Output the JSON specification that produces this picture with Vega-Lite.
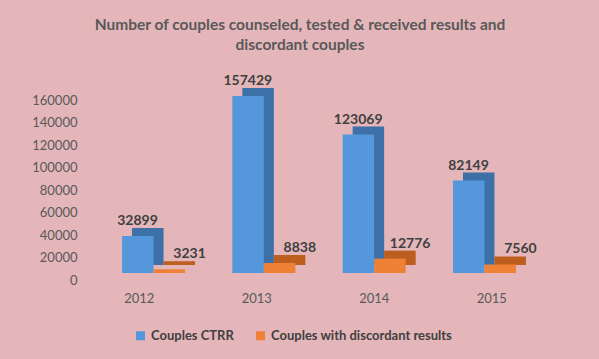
{
  "$schema": "https://vega.github.io/schema/vega-lite/v6.json",
  "width": 470,
  "height": 180,
  "autosize": {"type": "none"},
  "padding": {"left": 80, "top": 100, "right": 49, "bottom": 79},
  "background": "#e4b6ba",
  "config": {"view": {"stroke": null}, "font": "Lato"},
  "title": {
    "text": ["Number of couples counseled, tested & received results and", "discordant couples"],
    "fontSize": 15.5, "font": "Lato", "fontWeight": "bold", "color": "#595959",
    "anchor": "middle", "dx": -15, "offset": 20, "lineHeight": 20
  },
  "data": {"values": [
    {"year": "2012", "series": "Couples CTRR", "value": 32899},
    {"year": "2012", "series": "Couples with discordant results", "value": 3231},
    {"year": "2013", "series": "Couples CTRR", "value": 157429},
    {"year": "2013", "series": "Couples with discordant results", "value": 8838},
    {"year": "2014", "series": "Couples CTRR", "value": 123069},
    {"year": "2014", "series": "Couples with discordant results", "value": 12776},
    {"year": "2015", "series": "Couples CTRR", "value": 82149},
    {"year": "2015", "series": "Couples with discordant results", "value": 7560}
  ]},
  "encoding": {
    "y": {"field": "value", "type": "quantitative",
      "scale": {"domain": [0, 160000]},
      "axis": {"title": null, "values": [0, 20000, 40000, 60000, 80000, 100000, 120000, 140000, 160000], "format": "d", "labelFontSize": 13, "labelColor": "#595959", "domain": false, "ticks": false, "grid": false, "labelPadding": 3, "labelFont": "Lato"}}
  },
  "layer": [
    {
      "mark": {"type": "point", "opacity": 0},
      "encoding": {
        "x": {"field": "year", "type": "nominal",
          "axis": {"title": null, "labelAngle": 0, "labelFontSize": 13, "labelColor": "#595959", "domain": false, "ticks": false, "labelPadding": 12, "labelFont": "Lato"}}
      }
    },
    {
      "encoding": {
        "x": {"field": "year", "type": "nominal", "axis": null,
          "scale": {"range": [18.4, 459.6], "paddingInner": 0.429, "paddingOuter": 0.2145}}
      },
      "layer": [
        {
          "mark": {"type": "bar", "yOffset": -15},
          "encoding": {
            "xOffset": {"field": "series", "type": "nominal", "scale": {"paddingInner": 0, "paddingOuter": 0, "range": [10, 73]}},
            "color": {"field": "series", "type": "nominal", "scale": {"range": ["#3c70a6", "#bb5e1e"]}, "legend": null}
          }
        },
        {
          "mark": {"type": "bar", "yOffset": -7},
          "encoding": {
            "xOffset": {"field": "series", "type": "nominal", "scale": {"paddingInner": 0, "paddingOuter": 0, "range": [0, 63]}},
            "color": {"field": "series", "type": "nominal", "scale": {"range": ["#5498db", "#ef8136"]},
              "legend": {"title": null, "orient": "none", "direction": "horizontal", "legendX": 54, "legendY": 229,
                "symbolType": "square", "symbolSize": 81, "labelFontSize": 13, "labelFontWeight": "bold", "labelColor": "#404040", "labelFont": "Lato", "labelLimit": 400, "columnPadding": 20, "symbolStrokeWidth": 0}}
          }
        },
        {
          "transform": [{"filter": "datum.series == 'Couples CTRR'"}],
          "mark": {"type": "text", "dx": -16, "dy": -11, "yOffset": -7, "baseline": "alphabetic", "fontSize": 14, "fontWeight": "bold", "color": "#404040", "font": "Lato"},
          "encoding": {"text": {"field": "value", "type": "quantitative", "format": "d"}}
        },
        {
          "transform": [{"filter": "datum.series != 'Couples CTRR'"}],
          "mark": {"type": "text", "dx": 36, "dy": -11, "yOffset": -7, "baseline": "alphabetic", "fontSize": 14, "fontWeight": "bold", "color": "#404040", "font": "Lato"},
          "encoding": {"text": {"field": "value", "type": "quantitative", "format": "d"}}
        }
      ],
      "resolve": {"scale": {"color": "independent", "xOffset": "independent"}}
    }
  ],
  "resolve": {"scale": {"x": "independent"}}
}
